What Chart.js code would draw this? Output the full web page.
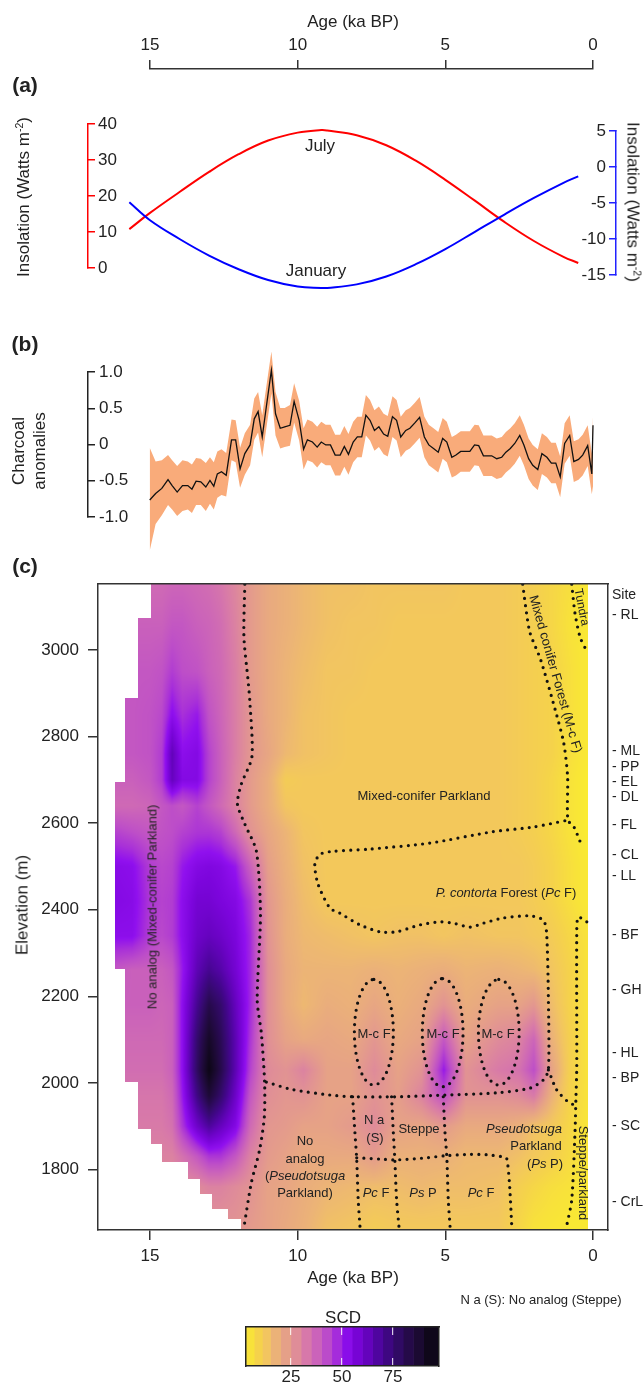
<!DOCTYPE html>
<html><head><meta charset="utf-8">
<script src="https://cdn.jsdelivr.net/npm/chart.js@4/dist/chart.umd.min.js"></script>
<style>
html,body{margin:0;padding:0;background:#fff;}
#page{position:relative;width:643px;height:1388px;overflow:hidden;font-family:'Liberation Sans',Arial,Helvetica,sans-serif;color:#222;}
#page canvas{position:absolute;left:0;top:0;}
.t{position:absolute;white-space:nowrap;line-height:1;}
.t sup{font-size:0.62em;vertical-align:0.55em;line-height:0;}
</style></head><body><div id="page"></div>
<script>
// ---------------- DATA ----------------
const topAgeTicks = [15, 10, 5, 0];
const bottomAgeTicks = [15, 10, 5, 0];

// (a) insolation anomalies
const insolAges = [15.7, 15, 14, 13, 12, 11, 10, 9.2, 9, 8, 7, 6, 5, 4, 3, 2, 1, 0.5];
const julyInsolation = [10.8, 15.3, 21.1, 26.7, 31.6, 35.4, 37.6, 38.3, 38.2, 36.9, 34.1, 29.8, 24.5, 18.7, 12.8, 7.5, 3.1, 1.4];
const januaryInsolation = [-4.9, -7.4, -10.0, -12.3, -14.2, -15.7, -16.6, -16.8, -16.8, -16.3, -15.2, -13.5, -11.4, -9.0, -6.6, -4.3, -2.2, -1.3];
const julyTicks = [0, 10, 20, 30, 40];
const januaryTicks = [-15, -10, -5, 0, 5];

// (b) charcoal anomalies
const charcoalAges = [15.01,14.81,14.60,14.39,14.25,14.08,13.90,13.72,13.58,13.44,
  13.28,13.11,12.97,12.84,12.72,12.58,12.42,12.24,12.10,11.95,
  11.79,11.61,11.47,11.34,11.20,11.06,10.89,10.75,10.59,10.44,
  10.26,10.12,9.95,9.80,9.67,9.50,9.34,9.20,9.05,8.89,
  8.73,8.56,8.42,8.28,8.12,7.98,7.83,7.69,7.55,7.40,
  7.25,7.09,6.95,6.79,6.65,6.51,6.34,6.20,6.04,5.87,
  5.71,5.56,5.40,5.24,5.09,4.95,4.78,4.64,4.48,4.33,
  4.17,4.01,3.87,3.71,3.57,3.43,3.26,3.09,2.95,2.80,
  2.65,2.48,2.34,2.18,2.04,1.87,1.73,1.56,1.41,1.26,
  1.11,0.96,0.79,0.65,0.49,0.35,0.18,0.04,0.00];
const charcoalValues = [-0.77,-0.68,-0.61,-0.49,-0.57,-0.66,-0.57,-0.57,-0.62,-0.51,
  -0.52,-0.59,-0.50,-0.58,-0.41,-0.38,-0.43,0.06,0.06,-0.34,
  -0.13,-0.01,0.35,0.45,0.10,0.52,1.02,0.42,0.22,0.24,
  0.26,0.59,0.33,-0.07,0.06,0.03,-0.04,0.03,-0.01,-0.01,
  -0.15,-0.15,-0.03,-0.14,0.03,0.10,0.10,0.40,0.33,0.19,
  0.24,0.14,0.11,0.38,0.33,0.10,0.19,0.22,0.29,0.37,
  0.10,-0.01,-0.06,-0.11,0.08,0.03,-0.18,-0.15,-0.10,-0.10,
  -0.10,-0.01,-0.02,-0.16,-0.16,-0.16,-0.20,-0.18,-0.11,-0.06,
  0.01,0.12,-0.01,-0.20,-0.29,-0.35,-0.13,-0.18,-0.26,-0.26,
  -0.45,0.01,0.12,-0.24,-0.21,-0.15,-0.02,-0.41,0.26];
const charcoalUpper = [-0.05,-0.24,-0.22,-0.15,-0.22,-0.30,-0.22,-0.24,-0.28,-0.19,
  -0.20,-0.26,-0.18,-0.25,-0.10,-0.07,-0.12,0.34,0.33,-0.05,
  0.15,0.27,0.63,0.72,0.40,0.80,1.28,0.72,0.50,0.50,
  0.54,0.84,0.60,0.22,0.34,0.31,0.24,0.31,0.27,0.27,
  0.13,0.13,0.25,0.14,0.31,0.38,0.38,0.68,0.61,0.47,
  0.52,0.42,0.39,0.66,0.61,0.38,0.47,0.50,0.57,0.65,
  0.38,0.27,0.22,0.17,0.36,0.31,0.10,0.13,0.18,0.18,
  0.18,0.27,0.26,0.12,0.12,0.12,0.08,0.10,0.17,0.22,
  0.29,0.40,0.27,0.08,-0.01,-0.07,0.15,0.10,0.02,0.02,
  -0.17,0.29,0.40,0.04,0.07,0.13,0.26,-0.13,0.38];
const charcoalLower = [-1.47,-1.10,-0.98,-0.84,-0.90,-0.99,-0.92,-0.90,-0.95,-0.84,
  -0.84,-0.92,-0.82,-0.90,-0.74,-0.70,-0.72,-0.22,-0.25,-0.60,
  -0.42,-0.29,0.06,0.16,-0.18,0.22,0.70,0.12,-0.06,-0.04,
  -0.02,0.30,0.05,-0.35,-0.22,-0.25,-0.32,-0.25,-0.29,-0.29,
  -0.43,-0.43,-0.31,-0.42,-0.25,-0.18,-0.18,0.12,0.05,-0.09,
  -0.04,-0.14,-0.17,0.10,0.05,-0.18,-0.09,-0.06,0.01,0.09,
  -0.18,-0.29,-0.34,-0.39,-0.20,-0.25,-0.46,-0.43,-0.38,-0.38,
  -0.38,-0.29,-0.30,-0.44,-0.44,-0.44,-0.48,-0.46,-0.39,-0.34,
  -0.27,-0.16,-0.29,-0.48,-0.57,-0.63,-0.41,-0.46,-0.54,-0.54,
  -0.73,-0.27,-0.16,-0.52,-0.49,-0.43,-0.30,-0.69,-0.58];
const charcoalTicks = [-1, -0.5, 0, 0.5, 1];
const charcoalTickLabels = ['-1.0', '-0.5', '0', '0.5', '1.0'];

// (c) SCD field: ages (ka BP) x elevations (m)
const scdAges  = [16.2,15.6,15.0,14.6,14.25,13.9,13.4,13.0,12.6,12.1,11.6,11.0,10.4,9.8,9.0,8.2,7.4,6.6,5.8,5.05,4.3,3.2,2.5,2.0,1.4,0.8,0.2];
const scdElevs = [3150,3060,2950,2850,2760,2700,2640,2580,2500,2420,2340,2260,2180,2100,2030,1970,1900,1830,1760,1665];
const scdAt3150 = [36,36,36,36,37,37,36,35,33,29,24,20,18,16,14,14,13,13,13,13,12,12,11,10,8,6,3];
const scdAt3060 = [38,38,38,38,40,40,38,37,35,30,24,20,18,16,14,13,13,12,12,12,12,12,11,10,8,5,3];
const scdAt2950 = [40,40,40,41,45,42,41,38,36,31,24,20,17,15,13,13,12,12,12,12,12,12,11,10,9,6,3];
const scdAt2850 = [40,40,41,43,52,47,50,41,37,31,25,20,17,14,13,12,12,12,12,12,12,12,11,10,9,6,3];
const scdAt2760 = [40,40,41,45,63,52,54,44,38,31,25,21,16,14,13,12,12,12,12,12,12,12,11,10,9,6,3];
const scdAt2700 = [38,38,40,45,62,54,54,44,38,30,24,19,11,12,12,12,12,12,12,12,12,12,11,10,8,5,2];
const scdAt2640 = [36,36,37,40,42,40,44,40,36,30,24,19,13,12,12,12,12,12,12,12,12,12,11,10,8,5,2];
const scdAt2580 = [44,42,40,41,42,44,46,46,44,36,26,21,17,13,12,12,12,12,12,12,12,12,11,10,8,5,2];
const scdAt2500 = [53,52,45,43,44,50,54,55,54,50,38,23,18,14,12,12,12,12,12,12,12,12,12,11,9,6,3];
const scdAt2420 = [54,53,46,44,45,52,58,58,56,54,46,25,19,15,12,12,12,12,12,12,12,12,12,11,9,6,3];
const scdAt2340 = [52,52,45,43,45,52,60,62,60,56,48,26,19,16,15,14,13,14,14,13,14,13,13,12,11,8,5];
const scdAt2260 = [40,38,38,38,40,50,64,70,66,58,48,27,20,17,17,17,18,17,18,19,17,18,17,16,13,9,5];
const scdAt2180 = [38,38,38,37,38,52,70,82,76,62,48,27,20,16,19,18,21,18,20,26,19,22,22,25,15,9,5];
const scdAt2100 = [36,36,36,36,38,52,76,90,80,64,46,27,22,20,21,20,25,20,22,40,22,28,30,37,18,10,5];
const scdAt2030 = [35,35,35,35,38,52,78,95,82,64,44,28,26,30,22,22,28,22,26,50,26,32,34,42,22,10,5];
const scdAt1970 = [33,33,33,33,36,50,72,86,76,60,40,27,25,26,22,22,26,23,30,42,26,26,28,32,18,9,5];
const scdAt1900 = [32,32,32,32,34,46,60,68,62,54,36,25,24,22,22,24,28,22,21,24,20,20,18,14,12,8,4];
const scdAt1830 = [30,30,30,30,30,34,40,46,46,40,30,24,22,20,20,20,24,18,18,18,16,16,14,12,10,7,4];
const scdAt1760 = [28,28,28,28,28,28,28,30,30,28,26,22,21,19,17,16,15,15,16,15,15,14,10,8,6,5,3];
const scdAt1665 = [26,26,26,26,26,26,26,26,26,26,24,22,20,18,14,13,11,12,12,12,12,12,8,5,4,3,3];
const scdRows = [scdAt3150,scdAt3060,scdAt2950,scdAt2850,scdAt2760,scdAt2700,scdAt2640,scdAt2580,scdAt2500,scdAt2420,
  scdAt2340,scdAt2260,scdAt2180,scdAt2100,scdAt2030,scdAt1970,scdAt1900,scdAt1830,scdAt1760,scdAt1665];
// western limit of the reconstruction (oldest age) for elevation bands (lower bound of band)
const dataEdgeElevs = [3075, 2888, 2695, 2263, 2003, 1893, 1858, 1817, 1777, 1743, 1708, 1685, 0];
const dataEdgeAges  = [14.95, 15.39, 15.83, 16.2, 15.83, 15.39, 14.98, 14.58, 13.7, 13.3, 12.9, 12.37, 11.93];
const scdYoungestAge = 0.17;

const elevTicks = [1800, 2000, 2200, 2400, 2600, 2800, 3000];
const siteElevs  = [3127, 3081, 2767, 2730, 2695, 2660, 2596, 2526, 2478, 2342, 2215, 2069, 2011, 1900, 1725];
const siteLabels = ['Site','- RL','- ML','- PP','- EL','- DL','- FL','- CL','- LL','- BF','- GH','- HL','- BP','- SC','- CrL'];

// vegetation boundaries [age, elevation]
const bNoAnalog = [[11.79,3152],[11.82,3030],[11.68,2930],[11.62,2882],[11.55,2753],[11.91,2690],[12.04,2644],[11.79,2598],[11.40,2536],[11.26,2390],[11.37,2191],[11.23,2115],[11.12,2002],[11.13,1921],[11.29,1845],[11.57,1769],[11.83,1662]];
const bContorta = [[11.06,2002],[10.2,1985],[8.91,1972],[8.13,1968],[6.65,1968],[5.01,1972],[3.26,1977],[2.13,1988],[1.68,2007],[1.51,2030],[1.51,2191],[1.57,2346],[1.68,2376],[2.13,2386],[3.04,2381],[3.71,2369],[4.16,2360],[4.73,2369],[5.18,2372],[5.86,2365],[6.65,2349],[7.21,2349],[7.89,2365],[8.57,2392],[8.91,2404],[9.31,2459],[9.42,2505],[9.25,2528],[8.8,2535],[7.58,2540],[5.52,2554],[3.42,2580],[2.03,2591],[0.85,2607]];
const bMixedForest = [[2.38,3152],[2.25,3085],[2.13,3039],[1.77,2977],[1.28,2862],[0.99,2785],[0.86,2707],[0.85,2607],[0.65,2592],[0.37,2546]];
const bTundra = [[0.72,3152],[0.61,3085],[0.44,3030],[0.27,3005]];
const bSteppeParkland = [[0.21,2372],[0.50,2383],[0.55,2346],[0.55,2037],[0.58,1960],[0.61,1884],[0.72,1730],[0.89,1670]];
const bParklandLink = [[1.51,2030],[1.23,1984],[0.84,1956],[0.60,1948]];
const bNaWest = [[8.14,1968],[8.06,1884],[8.0,1822],[7.95,1730],[7.89,1668]];
const bNaEast = [[6.82,1968],[6.76,1884],[6.71,1822],[6.65,1730],[6.57,1668]];
const bSteppeEast = [[5.07,1968],[5.01,1884],[4.95,1829],[4.90,1730],[4.84,1668]];
const bLowerForest = [[8.0,1827],[7.2,1824],[6.71,1822],[5.8,1826],[4.95,1832],[4.16,1835],[3.6,1834],[3.04,1829],[2.92,1825],[2.83,1769],[2.75,1668]];
const mcfCentreAges = [7.42, 5.09, 3.19];
const mcfCentreElevs = [2117, 2116, 2117];
const mcfAgeRadii = [0.66, 0.69, 0.69];
const mcfElevRadii = [122, 125, 122];

// colour bar
const cbEdges = [3,7,11,15,20,25,30,35,40,45,50,55,60,65,70,75,80,85,90,97.5];
const cbTicks = [25, 50, 75];

// ---------------- STYLE / LAYOUT ----------------
const W = 643, H = 1388;
const page = document.getElementById('page');
Chart.defaults.font.family = "'Liberation Sans', Arial, Helvetica, sans-serif";
Chart.defaults.font.size = 17;
Chart.defaults.color = '#222';

const X_AGE0 = 593, PX_PER_KA = 29.533;
const ageAtPx = px => (X_AGE0 - px) / PX_PER_KA;
const CH0 = 444.2, PX_PER_CH = 72.5;
const chAtPx = py => (CH0 - py) / PX_PER_CH;
const Y3000 = 650, PX_PER_M = 0.4329;
const elevAtPx = py => 3000 - (py - Y3000) / PX_PER_M;

const cmapVals = [0,5,9,13,17,22,27,32,37,42,47,51,56,61,66,71,76,81,86,92,97,100];
const cmapHex = ['#fbf22a','#f8e23a','#f5d24b','#f2c560','#ecb476','#e6a286','#e08f96','#d87aa8','#cc65b8','#bd4ec8','#a830d8','#9010ee','#7c05dc','#6a03c4','#5504a8','#42068a','#340a6c','#280a50','#1e0a38','#120820','#0a0410','#060208'];
const cmapRgb = cmapHex.map(h => [parseInt(h.slice(1,3),16), parseInt(h.slice(3,5),16), parseInt(h.slice(5,7),16)]);
function colorAt(v){
  if (v <= cmapVals[0]) return cmapRgb[0];
  for (let i = 0; i < cmapVals.length - 1; i++) {
    if (v <= cmapVals[i+1]) {
      const t = (v - cmapVals[i]) / (cmapVals[i+1] - cmapVals[i]);
      const a = cmapRgb[i], b = cmapRgb[i+1];
      return [a[0]+(b[0]-a[0])*t, a[1]+(b[1]-a[1])*t, a[2]+(b[2]-a[2])*t];
    }
  }
  return cmapRgb[cmapRgb.length-1];
}
const rgbStr = c => 'rgb(' + c.map(Math.round).join(',') + ')';

function newCtx(){
  const c = document.createElement('canvas');
  c.width = W; c.height = H; c.style.width = W + 'px'; c.style.height = H + 'px';
  page.appendChild(c); return c.getContext('2d');
}
function area(l, t, r, b){ return {left: l, top: t, right: W - r, bottom: H - b}; }
function opts(padding, scales, extra){
  return Object.assign({responsive:false, animation:false, devicePixelRatio:1, events:[],
    plugins:{legend:{display:false}, tooltip:{enabled:false}}, layout:{padding}, scales}, extra || {});
}
const ticksFrom = arr => s => { s.ticks = arr.map(v => ({value: v})); };
const setW = w => s => { s.width = w; };
const setH = h => s => { s.height = h; };
const zeroW = setW(0), zeroH = setH(0);
const hiddenAge = (l, r) => ({type:'linear', display:false, reverse:true, min:ageAtPx(r), max:ageAtPx(l)});
const pts = (xs, ys) => xs.map((x, i) => ({x, y: ys[i]}));
const pairPts = arr => arr.map(p => ({x: p[0], y: p[1]}));

// ---------- top age axis ----------
new Chart(newCtx(), {type:'line', data:{datasets:[]}, options: opts({left:150, top:0, right:W-593, bottom:H-75}, {
  x:{type:'linear', position:'top', reverse:true, min:0, max:15, afterBuildTicks: ticksFrom(topAgeTicks), afterFit: setH(69),
     ticks:{padding:4, autoSkip:false, maxRotation:0}, grid:{drawOnChartArea:false, tickLength:9, color:'#333', lineWidth:1.5},
     border:{color:'#333', width:1.5}},
  y:{display:false}
})});

// ---------- (a) July (red, left) ----------
new Chart(newCtx(), {type:'line', data:{datasets:[{data: pts(insolAges, julyInsolation), borderColor:'#ff0000', borderWidth:2, pointRadius:0, tension:0.4, clip:false, fill:false}]},
 options: opts(area(88, 124, 616, 268), {
  x: hiddenAge(88, 616),
  y: {type:'linear', position:'left', min:0, max:40, afterBuildTicks: ticksFrom(julyTicks), afterFit: zeroW,
      ticks:{mirror:true, padding:10, autoSkip:false}, grid:{drawOnChartArea:false, tickLength:-7, color:'#ff0000', lineWidth:1.5},
      border:{color:'#ff0000', width:1.5}}
 })});

// ---------- (a) January (blue, right) ----------
new Chart(newCtx(), {type:'line', data:{datasets:[{data: pts(insolAges, januaryInsolation), borderColor:'#0000ff', borderWidth:2, pointRadius:0, tension:0.4, clip:false, fill:false}]},
 options: opts(area(88, 131, 616, 275), {
  x: hiddenAge(88, 616),
  y: {type:'linear', position:'right', min:-15, max:5, afterBuildTicks: ticksFrom(januaryTicks), afterFit: zeroW,
      ticks:{mirror:true, padding:-10, autoSkip:false}, grid:{drawOnChartArea:false, tickLength:-7, color:'#2222ff', lineWidth:1.5},
      border:{color:'#2222ff', width:1.5}}
 })});

// ---------- (b) charcoal band + line ----------
new Chart(newCtx(), {type:'line', data:{datasets:[
   {data: pts(charcoalAges, charcoalUpper), fill:'+1', backgroundColor:'#f9ab7a', borderColor:'rgba(0,0,0,0)', borderWidth:0, pointRadius:0, order:1, tension:0},
   {data: pts(charcoalAges, charcoalLower), fill:false, borderColor:'rgba(0,0,0,0)', borderWidth:0, pointRadius:0, order:2, tension:0},
   {data: pts(charcoalAges, charcoalValues), fill:false, borderColor:'#111', borderWidth:1.3, pointRadius:0, order:0, tension:0}
 ]},
 options: opts(area(88, 330, 616, 570), {
  x: hiddenAge(88, 616),
  y: {type:'linear', display:false, min: chAtPx(570), max: chAtPx(330)}
 })});

// ---------- (b) charcoal axis ----------
new Chart(newCtx(), {type:'line', data:{datasets:[]}, options: opts(area(88, 372, 616, 517), {
  x: hiddenAge(88, 616),
  y: {type:'linear', position:'left', min:-1, max:1, afterBuildTicks: ticksFrom(charcoalTicks), afterFit: zeroW,
      ticks:{mirror:true, padding:11, autoSkip:false, callback:(v, i) => charcoalTickLabels[i]},
      grid:{drawOnChartArea:false, tickLength:-7, color:'#222', lineWidth:1.5}, border:{color:'#222', width:1.5}}
})});

// ---------- (c) SCD field ----------
function locate(arr, v){
  const n = arr.length;
  if (v >= arr[0]) return [0, 0];
  if (v <= arr[n-1]) return [n-2, 1];
  for (let i = 0; i < n - 1; i++) {
    if (v <= arr[i] && v >= arr[i+1]) return [i, (arr[i] - v) / (arr[i] - arr[i+1])];
  }
  return [n-2, 1];
}
function westLimit(elev){
  for (let i = 0; i < dataEdgeElevs.length; i++) if (elev >= dataEdgeElevs[i]) return dataEdgeAges[i];
  return dataEdgeAges[dataEdgeAges.length-1];
}
const lut = [];
for (let i = 0; i <= 1000; i++) lut.push(colorAt(i / 10));
const scdPlugin = {
  id: 'scdField',
  beforeDatasetsDraw(chart){
    const {ctx, chartArea: a, scales: {x, y}} = chart;
    const L = Math.round(a.left), T = Math.round(a.top);
    const w = Math.round(a.right) - L, h = Math.round(a.bottom) - T;
    const img = ctx.createImageData(w, h), d = img.data;
    const cols = [], ages = [];
    for (let i = 0; i < w; i++) { const ag = x.getValueForPixel(L + i + 0.5); ages.push(ag); cols.push(locate(scdAges, ag)); }
    for (let j = 0; j < h; j++) {
      const elev = y.getValueForPixel(T + j + 0.5);
      const lim = westLimit(elev);
      const [r, ty] = locate(scdElevs, elev);
      const r0 = scdRows[r], r1 = scdRows[r+1];
      for (let i = 0; i < w; i++) {
        const ag = ages[i];
        if (ag > lim || ag < scdYoungestAge) continue;
        const [c, tx] = cols[i];
        const v0 = r0[c] + (r0[c+1] - r0[c]) * tx;
        const v1 = r1[c] + (r1[c+1] - r1[c]) * tx;
        const v = v0 + (v1 - v0) * ty;
        const col = lut[Math.max(0, Math.min(1000, Math.round(v * 10)))];
        const k = (j * w + i) * 4;
        d[k] = col[0]; d[k+1] = col[1]; d[k+2] = col[2]; d[k+3] = 255;
      }
    }
    const off = document.createElement('canvas'); off.width = w; off.height = h;
    off.getContext('2d').putImageData(img, 0, 0);
    ctx.drawImage(off, L, T);
  }
};
const dotStyle = {borderColor:'#111', borderWidth:3.2, borderDash:[0, 7.2], borderCapStyle:'round', borderJoinStyle:'round', pointRadius:0, fill:false, tension:0.25};
const boundaries = [bNoAnalog, bContorta, bMixedForest, bTundra, bSteppeParkland, bParklandLink, bNaWest, bNaEast, bSteppeEast, bLowerForest];
const cDatasets = boundaries.map(b => Object.assign({data: pairPts(b)}, dotStyle));
mcfCentreAges.forEach((ca, k) => {
  const ring = [];
  for (let s = 0; s <= 72; s++) {
    const th = Math.PI / 2 + s * 2 * Math.PI / 72;
    ring.push({x: ca + mcfAgeRadii[k] * Math.cos(th), y: mcfCentreElevs[k] + mcfElevRadii[k] * Math.sin(th)});
  }
  cDatasets.push(Object.assign({}, dotStyle, {data: ring, tension:0}));
});
const EMIN = elevAtPx(1230), EMAX = elevAtPx(584);
new Chart(newCtx(), {type:'line', data:{datasets: cDatasets}, plugins:[scdPlugin],
 options: opts({left:0, top:584, right:0, bottom:0}, {
  x: {type:'linear', position:'bottom', reverse:true, min:ageAtPx(608), max:ageAtPx(98), afterBuildTicks: ticksFrom(bottomAgeTicks), afterFit: setH(H - 1230),
      ticks:{padding:6, autoSkip:false, maxRotation:0}, grid:{drawOnChartArea:false, tickLength:10, color:'#333', lineWidth:1.5},
      border:{color:'#333', width:1.5, z:1}},
  xTop: {type:'linear', position:'top', reverse:true, min:ageAtPx(608), max:ageAtPx(98), afterFit: zeroH,
      ticks:{display:false}, grid:{display:false, drawTicks:false}, border:{color:'#333', width:1.5, z:1}},
  y: {type:'linear', position:'left', min:EMIN, max:EMAX, afterBuildTicks: ticksFrom(elevTicks), afterFit: setW(98),
      ticks:{padding:9, autoSkip:false, callback: v => String(v)}, grid:{drawOnChartArea:false, tickLength:10, color:'#333', lineWidth:1.5},
      border:{color:'#333', width:1.5, z:1}},
  ySite: {type:'linear', position:'right', min:EMIN, max:EMAX, afterBuildTicks: ticksFrom(siteElevs), afterFit: setW(W - 608),
      ticks:{padding:4, autoSkip:false, font:{size:14}, callback:(v, i) => siteLabels[i]},
      grid:{display:false, drawTicks:false}, border:{color:'#333', width:1.5, z:1}}
 })});

// ---------- colour bar ----------
const cbDatasets = [];
for (let i = 0; i < cbEdges.length - 1; i++) {
  cbDatasets.push({data:[[cbEdges[i], cbEdges[i+1]]], backgroundColor: rgbStr(colorAt((cbEdges[i] + cbEdges[i+1]) / 2)),
    borderWidth:0, grouped:false, barPercentage:1, categoryPercentage:1});
}
new Chart(newCtx(), {type:'bar', data:{labels:['SCD'], datasets: cbDatasets},
 options: opts({left:246, top:1327, right:W-439, bottom:0}, {
  x: {type:'linear', position:'bottom', min:3, max:97.5, afterBuildTicks: ticksFrom(cbTicks), afterFit: setH(H - 1366),
      ticks:{padding:1, autoSkip:false, maxRotation:0},
      grid:{drawOnChartArea:true, drawTicks:false, color:'rgba(255,255,255,0.8)', lineWidth:1.2, z:1},
      border:{color:'#222', width:1.5, z:2, dash:[8, 23]}},
  xTop: {type:'linear', position:'top', min:3, max:97.5, afterFit: zeroH, ticks:{display:false}, grid:{display:false, drawTicks:false},
      border:{color:'#222', width:1.5, z:2}},
  y: {type:'category', position:'left', afterFit: zeroW, ticks:{display:false}, grid:{display:false, drawTicks:false}, border:{color:'#222', width:1.5, z:2}},
  yR: {type:'category', position:'right', afterFit: zeroW, ticks:{display:false}, grid:{display:false, drawTicks:false}, border:{color:'#222', width:1.5, z:2}}
 }, {indexAxis:'y'})});

// ---------- text ----------
function txt(html, x, y, o){
  o = o || {};
  const d = document.createElement('div');
  d.className = 't';
  d.innerHTML = html;
  d.style.left = x + 'px'; d.style.top = y + 'px';
  d.style.fontSize = (o.s || 13) + 'px';
  if (o.b) d.style.fontWeight = 'bold';
  d.style.transform = 'translate(-50%,-50%)' + (o.r ? ' rotate(' + o.r + 'deg)' : '');
  page.appendChild(d);
}
txt('Age (ka BP)', 353, 21, {s:17});
txt('(a)', 25, 84, {s:21, b:true});
txt('Insolation (Watts m<sup>-2</sup>)', 23, 197, {s:17, r:-90});
txt('Insolation (Watts m<sup>-2</sup>)', 633, 202, {s:17, r:90});
txt('July', 320, 145, {s:17});
txt('January', 316, 270, {s:17});
txt('(b)', 25, 343, {s:21, b:true});
txt('Charcoal', 18, 451, {s:17, r:-90});
txt('anomalies', 39, 451, {s:17, r:-90});
txt('(c)', 25, 565, {s:21, b:true});
txt('Elevation (m)', 22, 905, {s:17, r:-90});
txt('Age (ka BP)', 353, 1277, {s:17});
txt('N a (S): No analog (Steppe)', 541, 1299, {s:13});
txt('SCD', 343, 1317, {s:17});

txt('Mixed-conifer Parkland', 424, 795);
txt('No analog (Mixed-conifer Parkland)', 151.5, 907, {r:-90});
txt('<i>P. contorta</i> Forest (<i>Pc</i> F)', 506, 892);
txt('M-c F', 374, 1033); txt('M-c F', 443, 1033); txt('M-c F', 498, 1033);
txt('N a', 374, 1119); txt('(S)', 375, 1137);
txt('Steppe', 419, 1128);
txt('<i>Pseudotsuga</i>', 524, 1128); txt('Parkland', 536, 1145); txt('(<i>Ps</i> P)', 545, 1163);
txt('<i>Pc</i> F', 376, 1192); txt('<i>Ps</i> P', 423, 1192); txt('<i>Pc</i> F', 481, 1192);
txt('No', 305, 1140); txt('analog', 305, 1158); txt('(<i>Pseudotsuga</i>', 305, 1175); txt('Parkland)', 305, 1192);
txt('Steppe/parkland', 583, 1173, {r:90});
txt('Mixed conifer Forest (M-c F)', 556, 674, {r:74});
txt('Tundra', 582, 607, {r:79, s:12});
</script></body></html>
